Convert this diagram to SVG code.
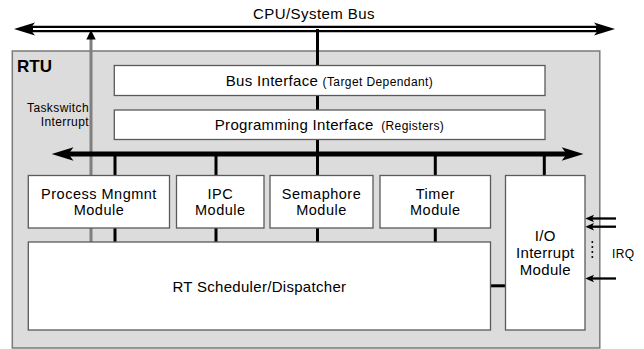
<svg xmlns="http://www.w3.org/2000/svg" width="644" height="349" viewBox="0 0 644 349">
<style>
  text { font-family: "Liberation Sans", Arial, sans-serif; fill: #000; }
  .t15 { font-size: 15px; letter-spacing: 0.3px; }
  .m { font-size: 14.5px; letter-spacing: 0.5px; }
  .t12 { font-size: 12px; letter-spacing: 0.4px; }
  .box { fill: #fff; stroke: #5a5a5a; stroke-width: 1.3; }
  .bus { stroke: #000; stroke-width: 3; fill: none; }
  .ah { fill: #000; stroke: none; }
</style>
<rect x="0" y="0" width="644" height="349" fill="#fff"/>

<g id="rtu">
  <rect x="12.3" y="51" width="587.5" height="297" fill="#dcdcdc" stroke="#7a7a7a" stroke-width="1.5"/>
  <text x="17" y="72" style="font-size:17px;font-weight:bold">RTU</text>
</g>

<g id="connectors">
  <!-- CPU/System bus (double line) -->
  <line x1="28" y1="29" x2="601" y2="29" stroke="#000" stroke-width="6.3"/>
  <line x1="33" y1="29" x2="596" y2="29" stroke="#fff" stroke-width="2"/>
  <path class="ah" d="M14,29 L35,22.5 L30,29 L35,35.5 Z"/>
  <path class="ah" d="M615,29 L594,22.5 L599,29 L594,35.5 Z"/>
  <!-- vertical from system bus to internal bus -->
  <line class="bus" x1="317.5" y1="29" x2="317.5" y2="154"/>
  <!-- taskswitch interrupt (gray) -->
  <line x1="91" y1="38" x2="91" y2="242" stroke="#7f7f7f" stroke-width="3"/>
  <path class="ah" d="M91,30 L86.3,39.5 L95.7,39.5 Z"/>
  <!-- internal bus -->
  <line x1="66" y1="154" x2="570" y2="154" stroke="#000" stroke-width="5"/>
  <path class="ah" d="M51.7,154 L73.5,147.3 L68.5,154 L73.5,160.7 Z"/>
  <path class="ah" d="M583.5,154 L561.7,147.3 L566.7,154 L561.7,160.7 Z"/>
  <!-- stubs bus -> modules -->
  <line class="bus" x1="115" y1="154" x2="115" y2="176"/>
  <line class="bus" x1="216" y1="154" x2="216" y2="176"/>
  <line class="bus" x1="317.5" y1="154" x2="317.5" y2="176"/>
  <line class="bus" x1="435.3" y1="154" x2="435.3" y2="176"/>
  <line class="bus" x1="544.3" y1="154" x2="544.3" y2="176"/>
  <!-- stubs modules -> scheduler -->
  <line class="bus" x1="115" y1="228" x2="115" y2="242"/>
  <line class="bus" x1="216" y1="228" x2="216" y2="242"/>
  <line class="bus" x1="317.5" y1="228" x2="317.5" y2="242"/>
  <line class="bus" x1="435.3" y1="228" x2="435.3" y2="242"/>
  <!-- scheduler <-> I/O -->
  <line class="bus" x1="488" y1="285.8" x2="507" y2="285.8"/>
  <!-- IRQ arrows -->
  <line x1="592" y1="218.5" x2="616" y2="218.5" stroke="#000" stroke-width="2.3"/>
  <line x1="592" y1="226.7" x2="616" y2="226.7" stroke="#000" stroke-width="2.3"/>
  <line x1="592" y1="278.5" x2="616" y2="278.5" stroke="#000" stroke-width="2.3"/>
  <path class="ah" d="M585.3,218.5 L594,214.8 L592,218.5 L594,222.2 Z"/>
  <path class="ah" d="M585.3,226.7 L594,223 L592,226.7 L594,230.4 Z"/>
  <path class="ah" d="M585.3,278.5 L594,274.8 L592,278.5 L594,282.2 Z"/>
  <g fill="#000">
    <circle cx="592.3" cy="242" r="1"/>
    <circle cx="592.3" cy="247" r="1"/>
    <circle cx="592.3" cy="252" r="1"/>
    <circle cx="592.3" cy="257" r="1"/>
  </g>
</g>

<g id="labels">
  <text class="t15" x="314" y="18.5" text-anchor="middle" style="letter-spacing:0.45px">CPU/System Bus</text>
  <text class="t12" x="89" y="112.3" text-anchor="end">Taskswitch</text>
  <text class="t12" x="89" y="126" text-anchor="end">Interrupt</text>
  <text class="t12" x="612" y="257.7">IRQ</text>
</g>

<g id="bus-interface">
  <rect class="box" x="114.3" y="65.5" width="430.7" height="30"/>
  <text x="329.5" y="86.3" text-anchor="middle"><tspan class="t15">Bus Interface </tspan><tspan class="t12">(Target Dependant)</tspan></text>
</g>

<g id="programming-interface">
  <rect class="box" x="114.3" y="110" width="430.7" height="29.5"/>
  <text x="329.5" y="130" text-anchor="middle"><tspan class="t15">Programming Interface </tspan><tspan class="t12" dx="3">(Registers)</tspan></text>
</g>

<g id="process-module">
  <rect class="box" x="28.3" y="175.5" width="141.2" height="52.5"/>
  <text class="m" x="99" y="198.6" text-anchor="middle">Process Mngmnt</text>
  <text class="m" x="99" y="215" text-anchor="middle">Module</text>
</g>

<g id="ipc-module">
  <rect class="box" x="176.5" y="175.5" width="87.5" height="52.5"/>
  <text class="m" x="220.3" y="198.6" text-anchor="middle">IPC</text>
  <text class="m" x="220.3" y="215" text-anchor="middle">Module</text>
</g>

<g id="semaphore-module">
  <rect class="box" x="270" y="175.5" width="103" height="52.5"/>
  <text class="m" x="321.5" y="198.6" text-anchor="middle">Semaphore</text>
  <text class="m" x="321.5" y="215" text-anchor="middle">Module</text>
</g>

<g id="timer-module">
  <rect class="box" x="380" y="175.5" width="110.5" height="52.5"/>
  <text class="m" x="435.3" y="198.6" text-anchor="middle">Timer</text>
  <text class="m" x="435.3" y="215" text-anchor="middle">Module</text>
</g>

<g id="io-interrupt-module">
  <rect class="box" x="505.5" y="175.5" width="79.5" height="154.5"/>
  <text class="t15" x="545.3" y="240.5" text-anchor="middle">I/O</text>
  <text class="t15" x="545.3" y="257.5" text-anchor="middle">Interrupt</text>
  <text class="t15" x="545.3" y="275" text-anchor="middle">Module</text>
</g>

<g id="rt-scheduler">
  <rect class="box" x="28.3" y="242" width="462.2" height="88"/>
  <text class="t15" x="259.4" y="291.7" text-anchor="middle">RT Scheduler/Dispatcher</text>
</g>
</svg>
